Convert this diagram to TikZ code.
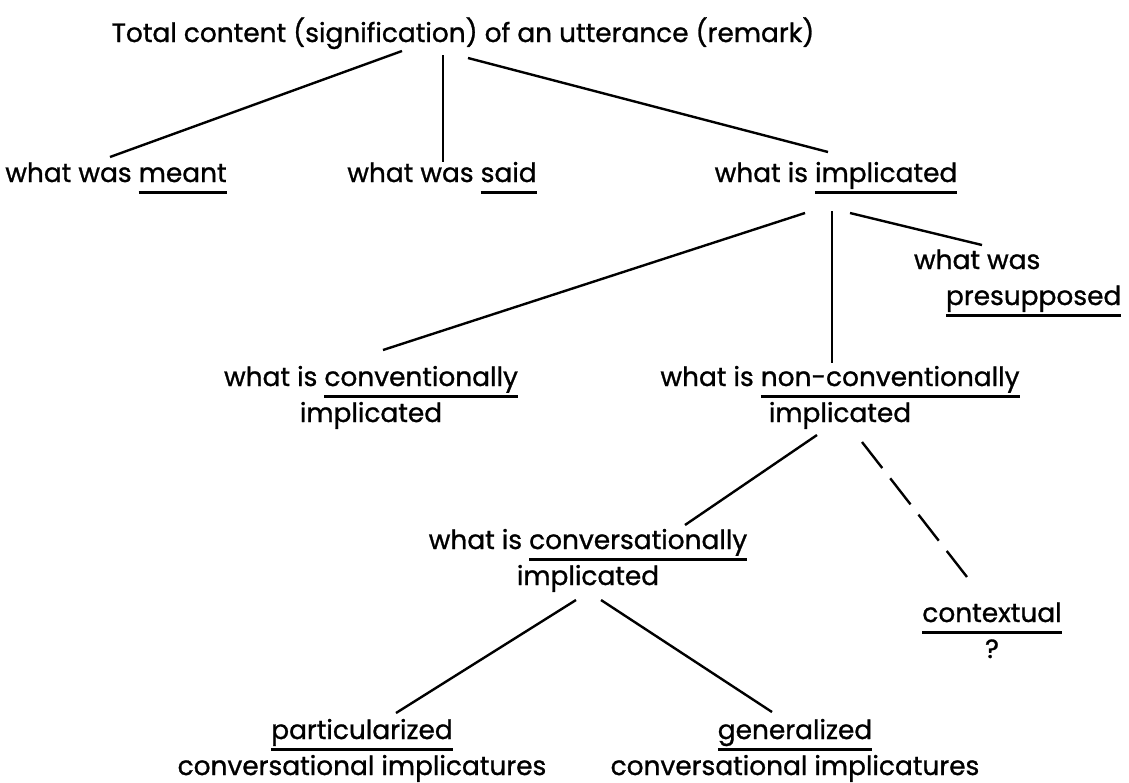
\documentclass[tikz,border=0pt]{standalone}
\usepackage{fontspec}
\setmainfont{Poppins}[FakeBold=1]
\usepackage{tikz}
\usetikzlibrary{calc}
\tikzset{>=latex}
\tikzstyle{txt}=[inner sep=0,outer sep=0,anchor=base,align=center,font={\fontsize{13.2}{18}\selectfont}]
\tikzstyle{twig}=[line width=1.2pt]
\tikzstyle{guess}=[twig,dash pattern=on 16.5pt off 6.5pt]
\newcommand{\undr}[1]{\setbox0\hbox{#1}\rlap{\rule[-6.2pt]{\wd0}{1.5pt}}\box0}

\begin{document}
\begin{tikzpicture}[x=0.5pt,y=-0.5pt]
\useasboundingbox (0,0) rectangle (1129,782);

\node[txt] (total) at (463,42) {Total content (signification) of an utterance (remark)};

\node[txt] (meant) at (116,182) {what was \undr{meant}};
\node[txt] (said) at (442,182) {what was \undr{said}};
\node[txt] (impl) at (836,182) {what is \undr{implicated}};

\node[txt,anchor=base west,align=left] (presup) at (914,305) {what was\\\hspace*{16pt}\undr{presupposed}};
\node[txt] (conv) at (371,422) {what is \undr{conventionally}\\implicated};
\node[txt] (nonconv) at (840,422) {what is \undr{non-conventionally}\\implicated};

\node[txt] (convers) at (588,585) {what is \undr{conversationally}\\implicated};
\node[txt] (context) at (992,658) {\undr{contextual}\\?};

\node[txt] (partic) at (362,775) {\undr{particularized}\\conversational implicatures};
\node[txt] (gener) at (795,775) {\undr{generalized}\\conversational implicatures};

% ylin taso
\draw[twig] ([shift={(-61,9)}]total.base) -- ([shift={(-6,-25)}]meant.base);
\draw[twig] ([shift={(-20,13)}]total.base) -- ([shift={(1,-20)}]said.base);
\draw[twig] ([shift={(5,16)}]total.base) -- ([shift={(-8,-30)}]impl.base);

\draw[twig] ([shift={(-31,31)}]impl.base) -- ([shift={(12,-72)}]conv.base);
\draw[twig] ([shift={(-4,29)}]impl.base) -- ([shift={(-8,-59)}]nonconv.base);
\draw[twig] ([shift={(14,31)}]impl.base) -- ([shift={(68,-60)}]presup.base west);

\draw[twig] ([shift={(-23,13)}]nonconv.base) -- ([shift={(97,-60)}]convers.base);
\draw[guess] ([shift={(22,20)}]nonconv.base) -- ([shift={(-25,-81)}]context.base);

% alin taso
\draw[twig] ([shift={(-12,15)}]convers.base) -- ([shift={(34,-62)}]partic.base);
\draw[twig] ([shift={(13,15)}]convers.base) -- ([shift={(-23,-63)}]gener.base);

\end{tikzpicture}
\end{document}
